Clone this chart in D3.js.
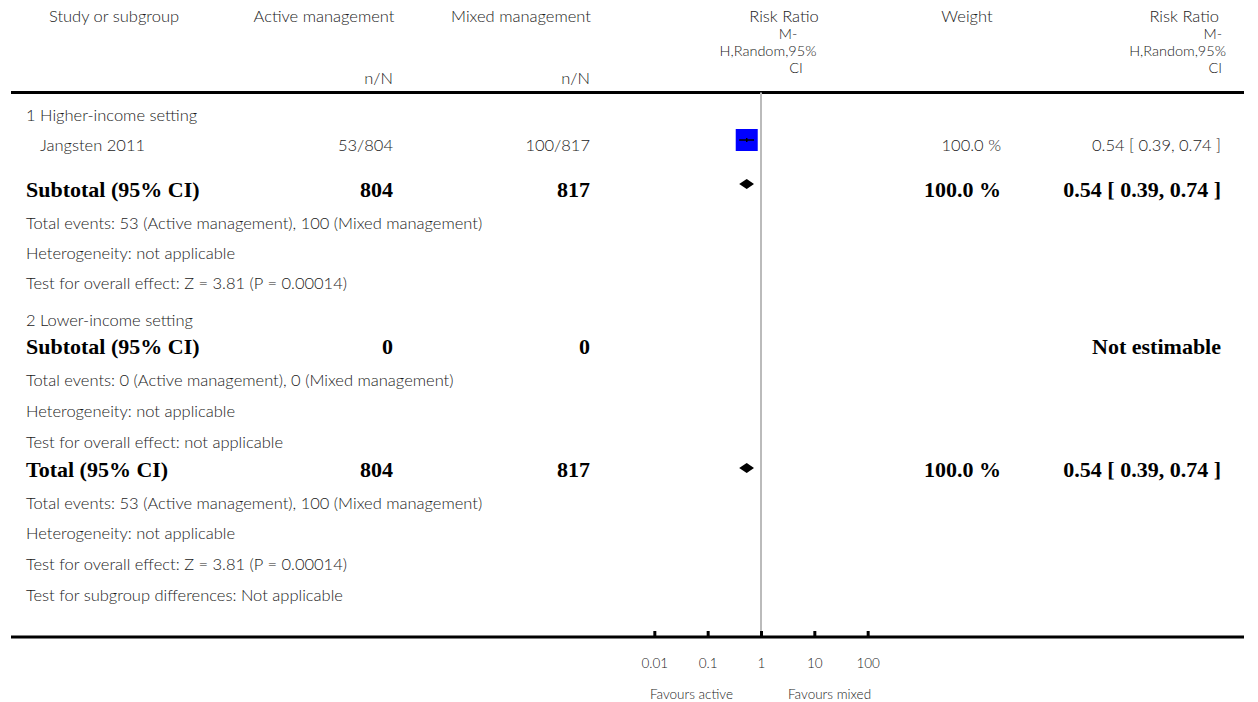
<!DOCTYPE html>
<html>
<head>
<meta charset="utf-8">
<script src="https://cdn.jsdelivr.net/npm/d3@7"></script>
<style>
  html, body { margin: 0; padding: 0; background: #fff; }
  svg { display: block; }
  .reg { font-family: Lato, "Open Sans", sans-serif; font-size: 16.5px; fill: #1a1a1a; font-weight: 300; }
  .hdr { font-family: Lato, "Open Sans", sans-serif; font-size: 14.5px; fill: #1a1a1a; font-weight: 300; }
  .small { font-family: Lato, "Open Sans", sans-serif; font-size: 13.5px; fill: #1a1a1a; font-weight: 300; }
  .bold { font-family: "Liberation Serif", "DejaVu Serif", serif; font-size: 22px; font-weight: bold; fill: #000; }
</style>
</head>
<body>
<svg id="chart" width="1258" height="702"></svg>
<script>
// ---------------- data ----------------
const headerCols = ["Study or subgroup", "Active management", "Mixed management", "Weight"];
const riskRatioHeader = ["Risk Ratio", "M-", "H,Random,95%", "CI"];
const studies = ["Jangsten 2011"];
const studyActive = ["53/804"];
const studyMixed = ["100/817"];
const studyRR = [0.54];
const studyLo = [0.39];
const studyHi = [0.74];
const studyWeight = ["100.0 %"];
const studyCI = ["0.54 [ 0.39, 0.74 ]"];
const studyBoxWeight = [100];

const subtotalRR = [0.54, null];
const subtotalLo = [0.39, null];
const subtotalHi = [0.74, null];
const subtotalActive = ["804", "0"];
const subtotalMixed = ["817", "0"];
const subtotalWeight = ["100.0 %", ""];
const subtotalCI = ["0.54 [ 0.39, 0.74 ]", "Not estimable"];

const totalRR = 0.54, totalLo = 0.39, totalHi = 0.74;
const totalActive = "804", totalMixed = "817", totalWeight = "100.0 %", totalCI = "0.54 [ 0.39, 0.74 ]";

const groupLabels = ["1 Higher-income setting", "2 Lower-income setting"];
const group1Notes = ["Total events: 53 (Active management), 100 (Mixed management)", "Heterogeneity: not applicable", "Test for overall effect: Z = 3.81 (P = 0.00014)"];
const group2Notes = ["Total events: 0 (Active management), 0 (Mixed management)", "Heterogeneity: not applicable", "Test for overall effect: not applicable"];
const totalNotes = ["Total events: 53 (Active management), 100 (Mixed management)", "Heterogeneity: not applicable", "Test for overall effect: Z = 3.81 (P = 0.00014)", "Test for subgroup differences: Not applicable"];

const tickValues = [0.01, 0.1, 1, 10, 100];
const tickLabels = ["0.01", "0.1", "1", "10", "100"];
const favourLabels = ["Favours active", "Favours mixed"];

// ---------------- layout ----------------
const svg = d3.select("#chart");
const x = d3.scaleLog().domain([0.001, 1000]).range([601, 921]);

const colStudyX = 26, colStudyIndent = 40;
const colActiveR = 393, colMixedR = 590, colWeightR = 1001, colCIR = 1221;
const lineLeft = 11, lineRight = 1244;
const lineTop = 92.5, lineBottom = 637;

function txt(cls, xx, yy, s, anchor) {
  return svg.append("text").attr("class", cls).attr("x", xx).attr("y", yy)
    .attr("text-anchor", anchor || "start").text(s);
}

// header
txt("reg", 114, 22, headerCols[0], "middle");
txt("reg", 324, 22, headerCols[1], "middle");
txt("reg", 521, 22, headerCols[2], "middle");
txt("reg", 967, 22, headerCols[3], "middle");
txt("reg", colActiveR, 84, "n/N", "end");
txt("reg", colMixedR, 84, "n/N", "end");
const rrHeadX = [784, 788, 768, 796];
const rrHeadY = [22, 39, 56, 73];
riskRatioHeader.forEach((s, i) => txt(i === 0 ? "reg" : "hdr", rrHeadX[i], rrHeadY[i], s, "middle"));
const rrRightX = [1219, 1222, 1226, 1222];
riskRatioHeader.forEach((s, i) => txt(i === 0 ? "reg" : "hdr", rrRightX[i], rrHeadY[i], s, "end"));

// lines
svg.append("line").attr("x1", lineLeft).attr("x2", lineRight).attr("y1", lineTop).attr("y2", lineTop)
  .attr("stroke", "#000").attr("stroke-width", 3);
svg.append("line").attr("x1", x(1)).attr("x2", x(1)).attr("y1", lineTop).attr("y2", lineBottom)
  .attr("stroke", "#bbb").attr("stroke-width", 2);
svg.append("line").attr("x1", lineLeft).attr("x2", lineRight).attr("y1", lineBottom).attr("y2", lineBottom)
  .attr("stroke", "#000").attr("stroke-width", 3);

function diamond(yc, lo, est, hi) {
  const h = 5;
  svg.append("path")
    .attr("d", `M${x(lo)},${yc} L${x(est)},${yc - h} L${x(hi)},${yc} L${x(est)},${yc + h} Z`)
    .attr("fill", "#000");
}

// group 1
txt("reg", colStudyX, 120.5, groupLabels[0]);
studies.forEach((s, i) => {
  const yb = 151, yc = 140;
  txt("reg", colStudyIndent, yb, s);
  txt("reg", colActiveR, yb, studyActive[i], "end");
  txt("reg", colMixedR, yb, studyMixed[i], "end");
  txt("reg", colWeightR, yb, studyWeight[i], "end");
  txt("reg", colCIR, yb, studyCI[i], "end");
  const side = 22 * Math.sqrt(studyBoxWeight[i] / 100);
  svg.append("rect").attr("x", x(studyRR[i]) - side / 2).attr("y", yc - side / 2)
    .attr("width", side).attr("height", side).attr("fill", "#0000ff");
  svg.append("line").attr("x1", x(studyLo[i])).attr("x2", x(studyHi[i])).attr("y1", yc).attr("y2", yc)
    .attr("stroke", "#000").attr("stroke-width", 1.5);
  svg.append("line").attr("x1", x(studyRR[i])).attr("x2", x(studyRR[i])).attr("y1", yc - 2).attr("y2", yc + 2)
    .attr("stroke", "#000").attr("stroke-width", 1.5);
});

// subtotal 1
txt("bold", colStudyX, 197, "Subtotal (95% CI)");
txt("bold", colActiveR, 197, subtotalActive[0], "end");
txt("bold", colMixedR, 197, subtotalMixed[0], "end");
txt("bold", colWeightR, 197, subtotalWeight[0], "end");
txt("bold", colCIR, 197, subtotalCI[0], "end");
diamond(184, subtotalLo[0], subtotalRR[0], subtotalHi[0]);
group1Notes.forEach((s, i) => txt("reg", colStudyX, 228.5 + i * 30, s));

// group 2
txt("reg", colStudyX, 325.5, groupLabels[1]);
txt("bold", colStudyX, 354, "Subtotal (95% CI)");
txt("bold", colActiveR, 354, subtotalActive[1], "end");
txt("bold", colMixedR, 354, subtotalMixed[1], "end");
txt("bold", colCIR, 354, subtotalCI[1], "end");
group2Notes.forEach((s, i) => txt("reg", colStudyX, 385.5 + i * 31, s));

// total
txt("bold", colStudyX, 477, "Total (95% CI)");
txt("bold", colActiveR, 477, totalActive, "end");
txt("bold", colMixedR, 477, totalMixed, "end");
txt("bold", colWeightR, 477, totalWeight, "end");
txt("bold", colCIR, 477, totalCI, "end");
diamond(468, totalLo, totalRR, totalHi);
totalNotes.forEach((s, i) => txt("reg", colStudyX, 508.5 + i * 30.7, s));

// axis
const axis = d3.axisBottom(x).tickValues(tickValues)
  .tickFormat((d, i) => tickLabels[i]).tickSizeInner(-6).tickSizeOuter(0).tickPadding(21);
const gAxis = svg.append("g").attr("transform", `translate(0,${lineBottom})`).call(axis);
gAxis.select(".domain").remove();
gAxis.selectAll(".tick line").attr("stroke", "#000").attr("stroke-width", 3);
gAxis.selectAll(".tick text").attr("class", "small").attr("font-size", null).attr("font-family", null).attr("fill", null);

txt("small", x(1) - 28, 699, favourLabels[0], "end");
txt("small", x(1) + 27, 699, favourLabels[1], "start");
</script>
</body>
</html>
